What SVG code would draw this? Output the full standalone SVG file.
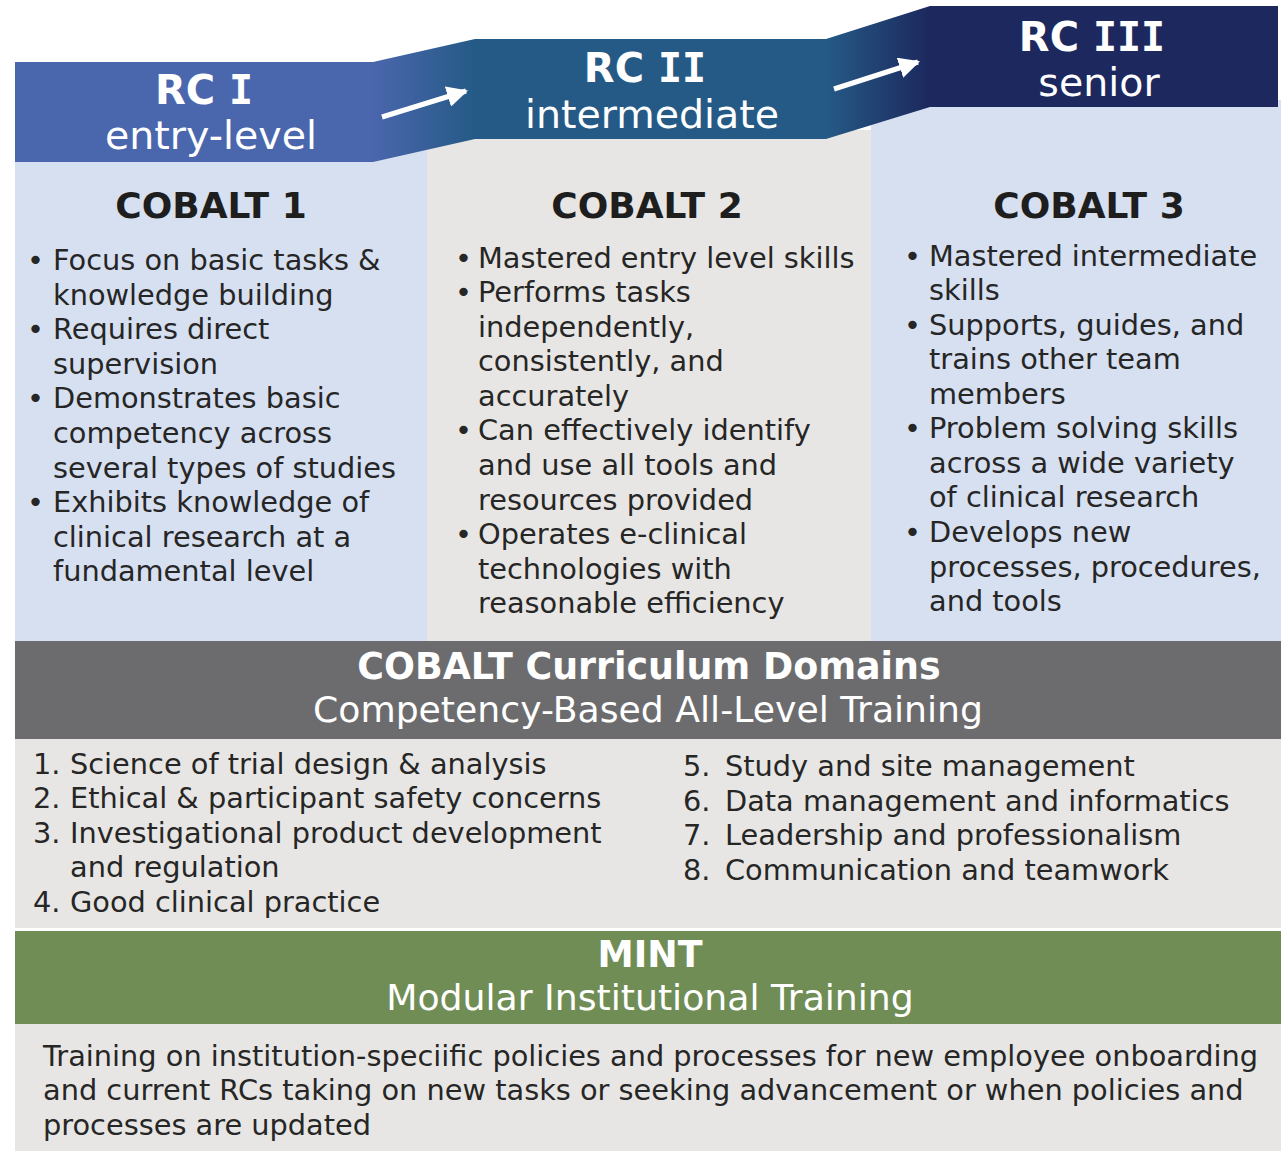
<svg xmlns="http://www.w3.org/2000/svg" width="1281" height="1151" viewBox="0 0 1281 1151">
  <defs>
    <linearGradient id="bandGrad" gradientUnits="userSpaceOnUse" x1="15" y1="0" x2="1278" y2="0">
      <stop offset="0" stop-color="#4A66AD"/>
      <stop offset="0.283" stop-color="#4A66AD"/>
      <stop offset="0.364" stop-color="#255A86"/>
      <stop offset="0.642" stop-color="#255A86"/>
      <stop offset="0.724" stop-color="#1C285E"/>
      <stop offset="1" stop-color="#1C285E"/>
    </linearGradient>
    <marker id="head" viewBox="0 0 10 10" refX="9" refY="5" markerWidth="4.2" markerHeight="4.2" orient="auto" markerUnits="strokeWidth">
      <path d="M0,0 L10,5 L0,10 Z" fill="#FFFFFF"/>
    </marker>
    <style>
      text { font-family: "DejaVu Sans", Verdana, sans-serif; }
      .hb { font-size: 40px; font-weight: bold; fill: #FFFFFF; text-anchor: middle; }
      .hb .roman { font-family: "DejaVu Sans Mono", monospace; }
      .hr { font-size: 39.5px; fill: #FFFFFF; text-anchor: middle; }
      .ttl { font-size: 36px; font-weight: bold; fill: #1E1E1E; text-anchor: middle; }
      .body { font-size: 28.8px; fill: #262626; }
      .bandB { font-size: 36.4px; font-weight: bold; fill: #FFFFFF; text-anchor: middle; }
      .bandR { font-size: 36.2px; fill: #FFFFFF; text-anchor: middle; }
      .arrow { stroke: #FFFFFF; stroke-width: 5; fill: none; marker-end: url(#head); }
    </style>
  </defs>

  <rect x="0" y="0" width="1281" height="1151" fill="#FFFFFF"/>

  <!-- column backgrounds -->
  <rect x="15" y="150" width="412" height="491" fill="#D7E0F1"/>
  <rect x="427" y="130" width="444" height="511" fill="#E7E6E4"/>
  <rect x="871" y="100" width="410" height="541" fill="#D7E0F1"/>

  <!-- stepped level banner -->
  <g id="level-banner">
    <polygon points="15,62 373,62 475,39 826,39 930,6 1278,6 1278,107 930,107 826,139 475,139 373,162 15,162" fill="url(#bandGrad)"/>
  </g>

  <g id="rc1">
    <text class="hb" x="204" y="104">RC <tspan class="roman">I</tspan></text>
    <text class="hr" x="211" y="149">entry-level</text>
  </g>
  <g id="rc2">
    <text class="hb" x="645" y="82">RC <tspan class="roman">II</tspan></text>
    <text class="hr" x="652" y="128">intermediate</text>
  </g>
  <g id="rc3">
    <text class="hb" x="1092" y="51">RC <tspan class="roman">III</tspan></text>
    <text class="hr" x="1099" y="96">senior</text>
  </g>

  <!-- progression arrows -->
  <g id="connectors">
    <line class="arrow" x1="382" y1="117" x2="466" y2="91"/>
    <line class="arrow" x1="834" y1="89" x2="918" y2="62"/>
  </g>

  <g id="cobalt1">
    <text class="ttl" x="211" y="218">COBALT 1</text>
    <g class="body">
      <text x="27" y="270">•</text>
      <text x="53" y="270">Focus on basic tasks &amp;</text>
      <text x="53" y="305">knowledge building</text>
      <text x="27" y="339">•</text>
      <text x="53" y="339">Requires direct</text>
      <text x="53" y="374">supervision</text>
      <text x="27" y="408">•</text>
      <text x="53" y="408">Demonstrates basic</text>
      <text x="53" y="443">competency across</text>
      <text x="53" y="478">several types of studies</text>
      <text x="27" y="512">•</text>
      <text x="53" y="512">Exhibits knowledge of</text>
      <text x="53" y="547">clinical research at a</text>
      <text x="53" y="581">fundamental level</text>
    </g>
  </g>

  <g id="cobalt2">
    <text class="ttl" x="647" y="218">COBALT 2</text>
    <g class="body">
      <text x="455" y="268">•</text>
      <text x="478" y="268">Mastered entry level skills</text>
      <text x="455" y="302">•</text>
      <text x="478" y="302">Performs tasks</text>
      <text x="478" y="337">independently,</text>
      <text x="478" y="371">consistently, and</text>
      <text x="478" y="406">accurately</text>
      <text x="455" y="440">•</text>
      <text x="478" y="440">Can effectively identify</text>
      <text x="478" y="475">and use all tools and</text>
      <text x="478" y="510">resources provided</text>
      <text x="455" y="544">•</text>
      <text x="478" y="544">Operates e-clinical</text>
      <text x="478" y="579">technologies with</text>
      <text x="478" y="613">reasonable efficiency</text>
    </g>
  </g>

  <g id="cobalt3">
    <text class="ttl" x="1089" y="218">COBALT 3</text>
    <g class="body">
      <text x="904" y="266">•</text>
      <text x="929" y="266">Mastered intermediate</text>
      <text x="929" y="300">skills</text>
      <text x="904" y="335">•</text>
      <text x="929" y="335">Supports, guides, and</text>
      <text x="929" y="369">trains other team</text>
      <text x="929" y="404">members</text>
      <text x="904" y="438">•</text>
      <text x="929" y="438">Problem solving skills</text>
      <text x="929" y="473">across a wide variety</text>
      <text x="929" y="507">of clinical research</text>
      <text x="904" y="542">•</text>
      <text x="929" y="542">Develops new</text>
      <text x="929" y="577">processes, procedures,</text>
      <text x="929" y="611">and tools</text>
    </g>
  </g>

  <g id="curriculum">
    <rect x="15" y="641" width="1266" height="98" fill="#6C6C6E"/>
    <text class="bandB" x="649" y="679">COBALT Curriculum Domains</text>
    <text class="bandR" x="648" y="722">Competency-Based All-Level Training</text>
    <rect x="15" y="739" width="1266" height="189" fill="#E7E6E4"/>
    <g class="body">
      <text x="33" y="774">1.</text>
      <text x="70" y="774">Science of trial design &amp; analysis</text>
      <text x="33" y="808">2.</text>
      <text x="70" y="808">Ethical &amp; participant safety concerns</text>
      <text x="33" y="843">3.</text>
      <text x="70" y="843">Investigational product development</text>
      <text x="70" y="877">and regulation</text>
      <text x="33" y="912">4.</text>
      <text x="70" y="912">Good clinical practice</text>
      <text x="683" y="776">5.</text>
      <text x="725" y="776">Study and site management</text>
      <text x="683" y="811">6.</text>
      <text x="725" y="811">Data management and informatics</text>
      <text x="683" y="845">7.</text>
      <text x="725" y="845">Leadership and professionalism</text>
      <text x="683" y="880">8.</text>
      <text x="725" y="880">Communication and teamwork</text>
    </g>
  </g>

  <g id="mint">
    <rect x="15" y="931" width="1266" height="93" fill="#6F8D55"/>
    <text class="bandB" x="650" y="967">MINT</text>
    <text class="bandR" x="650" y="1010">Modular Institutional Training</text>
    <rect x="15" y="1024" width="1266" height="127" fill="#E7E6E4"/>
    <g class="body">
      <text x="43" y="1066">Training on institution-speciific policies and processes for new employee onboarding</text>
      <text x="43" y="1100">and current RCs taking on new tasks or seeking advancement or when policies and</text>
      <text x="43" y="1135">processes are updated</text>
    </g>
  </g>
</svg>
